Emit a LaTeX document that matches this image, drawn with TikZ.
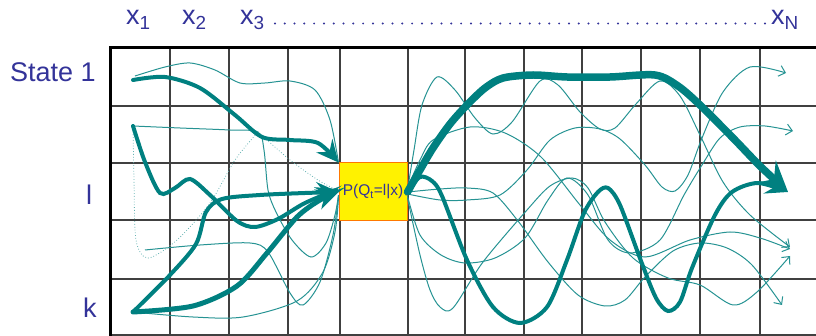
\documentclass[tikz,border=0pt]{standalone}
\usepackage{fontspec}
\setmainfont{Liberation Sans}
\usetikzlibrary{arrows.meta}
\definecolor{pathteal}{RGB}{0,128,128}
\definecolor{labelblue}{RGB}{51,51,153}
\definecolor{boxorange}{RGB}{255,120,0}

\begin{document}
\begin{tikzpicture}[
	x=1pt, y=-1pt,
	>={Straight Barb[length=6pt,width=11pt]},
	gridline/.style={ black!75, line width=1.3pt },
	frame/.style={ black, line width=3pt },
	lbl/.style={ labelblue, font=\fontsize{27}{30}\selectfont, inner sep=0pt, anchor=base west },
	pbox/.style={ draw=boxorange, fill=yellow, line width=1pt, minimum width=68pt, minimum height=58pt, inner sep=0pt, text=labelblue, font=\fontsize{15.5}{17}\selectfont },
	thinpath/.style={ pathteal!85, line width=1pt },
	dotpath/.style={ pathteal!60, line width=0.8pt, dotted },
	thickpath/.style={ pathteal, line width=4pt, line cap=round, -{Stealth[length=22pt,width=21pt,inset=8pt]} },
	fatpath/.style={ pathteal, line width=7.5pt, line cap=round, -{Stealth[length=30pt,width=30pt,inset=11pt]} },
	dotrow/.style={ labelblue, line width=2.2pt, line cap=round, dash pattern=on 0pt off 9.8pt }
]
\useasboundingbox (0,0) rectangle (816,336);

\foreach \gx in {170,229,288,340,408,465,524,582,641,700,760}
  \draw[gridline] (\gx,48) -- (\gx,336);
\foreach \gy in {106,163,220,279,335}
  \draw[gridline] (110,\gy) -- (816,\gy);
\draw[frame] (110,336) -- (110,48) -- (816,48);

\node[lbl] (x1) at (126,25) {x\textsubscript{1}};
\node[lbl] (x2) at (182,25) {x\textsubscript{2}};
\node[lbl] (x3) at (240,25) {x\textsubscript{3}};
\node[lbl] (xn) at (771,25) {x\textsubscript{N}};
\draw[dotrow] ([xshift=10pt,yshift=1.5pt]x3.base east) -- ([xshift=-6pt,yshift=1.5pt]xn.base west);
\node[lbl] (st1) at (10,82) {State 1};
\node[lbl] (stl) at (86,205) {l};
\node[lbl] (stk) at (83,318) {k};

\node[pbox] (pq) at (373,192) {P(Q\textsubscript{t}=l|x)};

\coordinate (s1) at (133,80);
\coordinate (sl) at (133,126);
\coordinate (sk) at (133,312);
\coordinate (goal) at (788,192);

\draw[thinpath] plot[smooth] coordinates {(135,76) (165,67) (190,63) (215,70) (240,83) (265,83) (290,81) (315,90) (330,120) (pq.north west)};
\draw[thinpath] plot[smooth] coordinates {(sl) (180,128) (230,130) (258,132) (264,150) (268,190) (276,212) (292,240) (311,257) (326,243) (335,215) ([yshift=-3pt]pq.west)};
\draw[thinpath] plot[smooth] coordinates {(145,250) (200,245) (250,243) (268,252) (290,293) (303,305) (320,282) (333,235) ([yshift=-4pt]pq.west)};
\draw[thinpath] plot[smooth] coordinates {(sk) (193,317) (243,317) (297,301) (323,272) (335,232) ([yshift=-5pt]pq.west)};
\draw[dotpath] plot[smooth] coordinates {(sl) (134,180) (136,240) (148,258) (177,240) (210,203) (235,160) (258,132)};
\draw[dotpath] plot[smooth] coordinates {(258,132) (290,160) (318,180) ([yshift=1pt]pq.west)};

\draw[thickpath] plot[smooth] coordinates {(s1) (165,77) (200,88) (235,115) (262,137) (290,140) (318,143) (pq.north west)};
\draw[thickpath] plot[smooth] coordinates {(sl) (145,162) (160,193) (175,188) (190,179) (210,195) (237,221) (255,227) (278,219) (305,203) ([yshift=3pt]pq.west)};
\draw[thickpath] plot[smooth] coordinates {(sk) (170,275) (196,244) (206,212) (222,199) (260,195) (305,193) (pq.west)};
\draw[thickpath, line width=5pt] plot[smooth] coordinates {(sk) (193,306) (237,286) (267,253) (297,217) (320,200) (pq.west)};

\draw[thinpath, ->] plot[smooth] coordinates {([yshift=2pt]pq.east) (414,150) (422,105) (437,77) (455,90) (475,118) (493,134) (512,122) (540,81) (558,85) (580,112) (600,129) (615,128) (636,104) (660,81) (680,96) (700,135) (723,182) (750,215) (790,247)};
\draw[thinpath, ->] plot[smooth] coordinates {(pq.east) (440,189) (467,188) (493,193) (518,221) (548,262) (578,295) (605,306) (625,300) (645,277) (673,251) (700,243) (727,248) (752,265) (782,305)};
\draw[thinpath, ->] plot[smooth] coordinates {([yshift=-2pt]pq.east) (440,200) (467,200) (500,195) (527,170) (550,140) (575,128) (600,129) (620,139) (645,165) (662,187) (675,191) (688,175) (702,138) (723,92) (750,67) (786,73)};
\draw[thinpath, ->] plot[smooth] coordinates {([yshift=-4pt]pq.east) (420,235) (441,255) (465,263) (495,258) (525,238) (548,200) (567,178) (588,195) (608,240) (630,253) (660,240) (684,195) (702,165) (720,138) (740,127) (765,126) (793,131)};
\draw[thinpath, ->] plot[smooth] coordinates {([yshift=-6pt]pq.east) (420,255) (430,290) (440,307) (453,308) (483,262) (527,210) (550,186) (572,178) (588,188) (605,222) (633,258) (668,278) (700,285) (733,305) (757,292) (790,256)};
\draw[thinpath, ->] plot[smooth] coordinates {([yshift=4pt]pq.east) (420,160) (433,140) (470,127) (505,133) (541,157) (580,205) (610,240) (645,257) (690,240) (730,232) (760,238) (790,249)};

\draw[fatpath] plot[smooth] coordinates {(pq.east) (420,170) (433,148) (450,124) (467,105) (485,88) (503,78) (533,75) (567,77) (610,77) (655,75) (678,86) (700,105) (733,138) (760,166) (goal)};
\draw[thickpath] plot[smooth] coordinates {(pq.east) (420,177) (432,181) (442,196) (467,260) (493,307) (520,323) (547,307) (567,260) (584,213) (598,192) (608,188) (620,205) (641,261) (656,298) (668,311) (680,302) (692,268) (715,215) (732,192) (758,183) (goal)};

\end{tikzpicture}
\end{document}
